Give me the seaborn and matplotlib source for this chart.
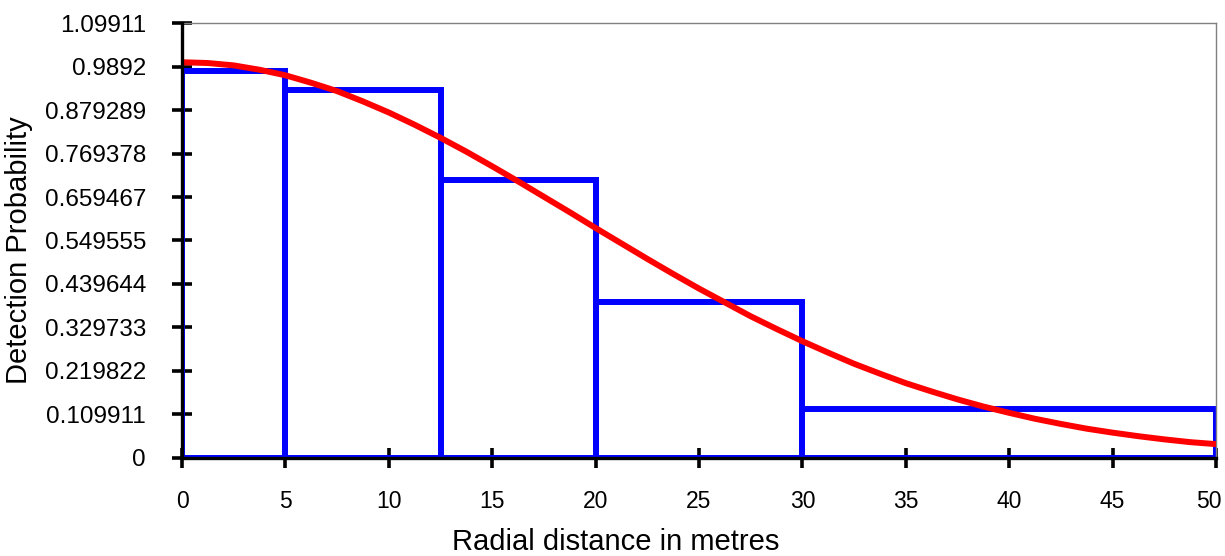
import numpy as np
import pandas as pd
import matplotlib
matplotlib.use("Agg")
import matplotlib.pyplot as plt
import matplotlib.transforms as mtransforms
import seaborn as sns

# --- data ---
bin_edges = [0, 5, 12.5, 20, 30, 50]
bin_heights = [0.979, 0.93, 0.702, 0.394, 0.125]

curve_x = [0, 1.25, 2.5, 3.75, 5, 6.25, 7.5, 8.75, 10, 11.25, 12.5,
           13.75, 15, 16.25, 17.5, 18.75, 20, 21.25, 22.5, 23.75, 25,
           26.25, 27.5, 28.75, 30, 31.25, 32.5, 33.75, 35, 36.25, 37.5,
           38.75, 40, 41.25, 42.5, 43.75, 45, 46.25, 47.5, 48.75, 50]
curve_y = [1.0, 0.998, 0.992, 0.981, 0.967, 0.948, 0.927, 0.901, 0.873, 0.842, 0.809,
           0.774, 0.737, 0.699, 0.660, 0.621, 0.581, 0.542, 0.503, 0.465, 0.428,
           0.393, 0.358, 0.326, 0.295, 0.266, 0.238, 0.213, 0.189, 0.168, 0.148,
           0.130, 0.114, 0.099, 0.086, 0.074, 0.064, 0.055, 0.047, 0.040, 0.035]

y_ticks = [0, 0.109911, 0.219822, 0.329733, 0.439644, 0.549555,
           0.659467, 0.769378, 0.879289, 0.9892, 1.09911]
y_tick_labels = ["0", "0.109911", "0.219822", "0.329733", "0.439644", "0.549555",
                 "0.659467", "0.769378", "0.879289", "0.9892", "1.09911"]
x_ticks = [0, 5, 10, 15, 20, 25, 30, 35, 40, 45, 50]

sns.set_style("ticks")
plt.rcParams['font.family'] = ['Liberation Sans', 'DejaVu Sans']

fig = plt.figure(figsize=(12.25, 5.56), dpi=100)
ax = fig.add_axes([0.1486, 0.1763, 0.8441, 0.7823])

# histogram bars (outline only), one observation per bin weighted by its height
centres = [(a + b) / 2 for a, b in zip(bin_edges[:-1], bin_edges[1:])]
bars = pd.DataFrame({"x": centres, "w": bin_heights})
sns.histplot(data=bars, x="x", weights="w", bins=bin_edges, element="bars",
             fill=False, color="#0000FF", edgecolor="#0000FF", linewidth=4.3,
             ax=ax, zorder=2)

# fitted detection curve
curve = pd.DataFrame({"x": curve_x, "y": curve_y})
sns.lineplot(data=curve, x="x", y="y", color="#FF0000", linewidth=4.3, ax=ax, zorder=3)

ax.set_xlim(0, 50)
ax.set_ylim(0, 1.09911)
ax.set_xticks(x_ticks)
ax.set_yticks(y_ticks)
ax.set_yticklabels(y_tick_labels)

ax.tick_params(axis="both", direction="inout", length=14, width=2.6, color="black",
               labelsize=17.5, labelcolor="black", bottom=True, left=True)
ax.tick_params(axis="x", labelsize=16.5, pad=16)
ax.tick_params(axis="y", pad=19)

# keep the last x label inside the figure, like the original
last = ax.get_xticklabels()[-1]
last.set_transform(last.get_transform() +
                   mtransforms.ScaledTranslation(-0.07, 0, fig.dpi_scale_trans))

for side in ["left", "bottom"]:
    ax.spines[side].set_color("black")
    ax.spines[side].set_linewidth(2.4)
    ax.spines[side].set_zorder(4)
for side in ["top", "right"]:
    ax.spines[side].set_color("#808080")
    ax.spines[side].set_linewidth(1)

ax.set_xlabel("Radial distance in metres", fontsize=21, color="black")
ax.set_ylabel("Detection Probability", fontsize=21, color="black")
ax.xaxis.set_label_coords(0.419, -0.162)
ax.yaxis.set_label_coords(-0.144, 0.478)

fig.savefig("out.png", dpi=100)
